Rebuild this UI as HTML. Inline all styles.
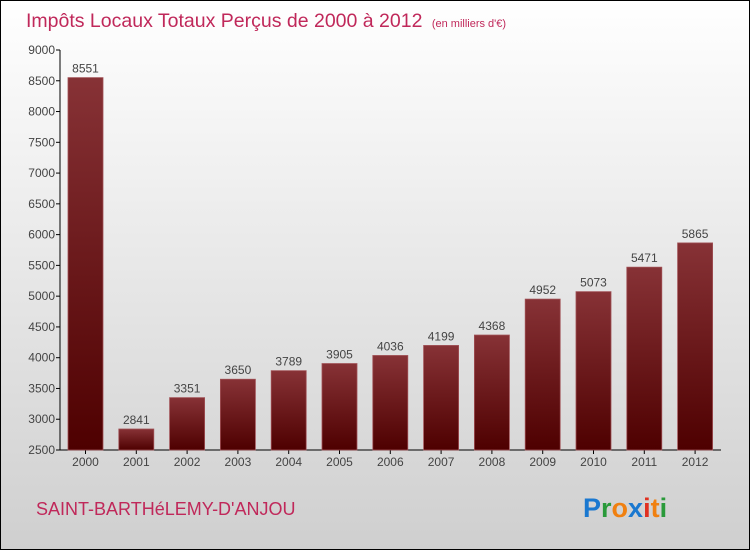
<!DOCTYPE html>
<html><head><meta charset="utf-8"><style>
body{margin:0;width:750px;height:550px;overflow:hidden;font-family:"Liberation Sans",sans-serif}
</style></head><body>
<svg width="750" height="550" xmlns="http://www.w3.org/2000/svg">
<defs>
<linearGradient id="bg" x1="0" y1="0" x2="0" y2="1"><stop offset="0" stop-color="#ffffff"/><stop offset="1" stop-color="#cfcfcf"/></linearGradient>
<linearGradient id="bar" x1="0" y1="0" x2="0" y2="1"><stop offset="0" stop-color="#873236"/><stop offset="1" stop-color="#4e0000"/></linearGradient>
</defs>
<rect x="0.5" y="0.5" width="749" height="549" fill="url(#bg)" stroke="#000"/>
<text x="26" y="27" font-size="19.5" fill="#c0285a">Impôts Locaux Totaux Perçus de 2000 à 2012 <tspan font-size="11" dx="4">(en milliers d'€)</tspan></text>
<g id="axes"></g>
<g id="bars"></g>
<text x="36" y="515" font-size="18" fill="#c0285a">SAINT-BARTHéLEMY-D'ANJOU</text>
<g font-size="27" font-weight="bold">
<text x="583" y="517" fill="#1a78d0">P<tspan fill="#2a9a3a">r</tspan><tspan fill="#f08010">o</tspan><tspan fill="#1a78d0">x</tspan><tspan fill="#e03020">i</tspan><tspan fill="#f08010">t</tspan><tspan fill="#2a9a3a">i</tspan></text>
</g>
</svg>
<script>
const categories=["2000","2001","2002","2003","2004","2005","2006","2007","2008","2009","2010","2011","2012"];
const values=[8551,2841,3351,3650,3789,3905,4036,4199,4368,4952,5073,5471,5865];
const yTicks=[2500,3000,3500,4000,4500,5000,5500,6000,6500,7000,7500,8000,8500,9000];
const NS="http://www.w3.org/2000/svg";
const yMin=2500,yMax=9000,yTop=50,yBot=450;
const y=v=>yBot-(v-yMin)/(yMax-yMin)*(yBot-yTop);
const x=i=>85.5+i*50.8;
function mk(t,a,p){const e=document.createElementNS(NS,t);for(const k in a)e.setAttribute(k,a[k]);p.appendChild(e);return e;}
const ax=document.getElementById('axes'),bg=document.getElementById('bars');
const yl=mk('line',{x1:60,y1:yTop,x2:60,y2:yBot,stroke:'#000'},ax);


const xl=mk('line',{x1:60,y1:yBot,x2:721,y2:yBot,stroke:'#000'},ax);


yTicks.forEach(t=>{
 mk('line',{x1:56,y1:y(t),x2:60,y2:y(t),stroke:'#000'},ax);
 const tx=mk('text',{x:55,y:y(t)+4,'text-anchor':'end','font-size':12,fill:'#444'},ax);
 tx.textContent=t;
 
 
});
categories.forEach((c,i)=>{
 const r=mk('rect',{x:x(i)-17.5,y:y(values[i]),width:35,height:yBot-y(values[i]),fill:'url(#bar)',stroke:'#a05055','stroke-width':0.8},bg);
 
 
 const v=mk('text',{x:x(i),y:y(values[i])-5,'text-anchor':'middle','font-size':12,fill:'#444'},bg);
 v.textContent=values[i];
 
 
 mk('line',{x1:x(i),y1:yBot,x2:x(i),y2:yBot+4,stroke:'#000'},ax);
 const l=mk('text',{x:x(i),y:466,'text-anchor':'middle','font-size':12,fill:'#444'},ax);
 l.textContent=c;
 
 
});
</script>
</body></html>
